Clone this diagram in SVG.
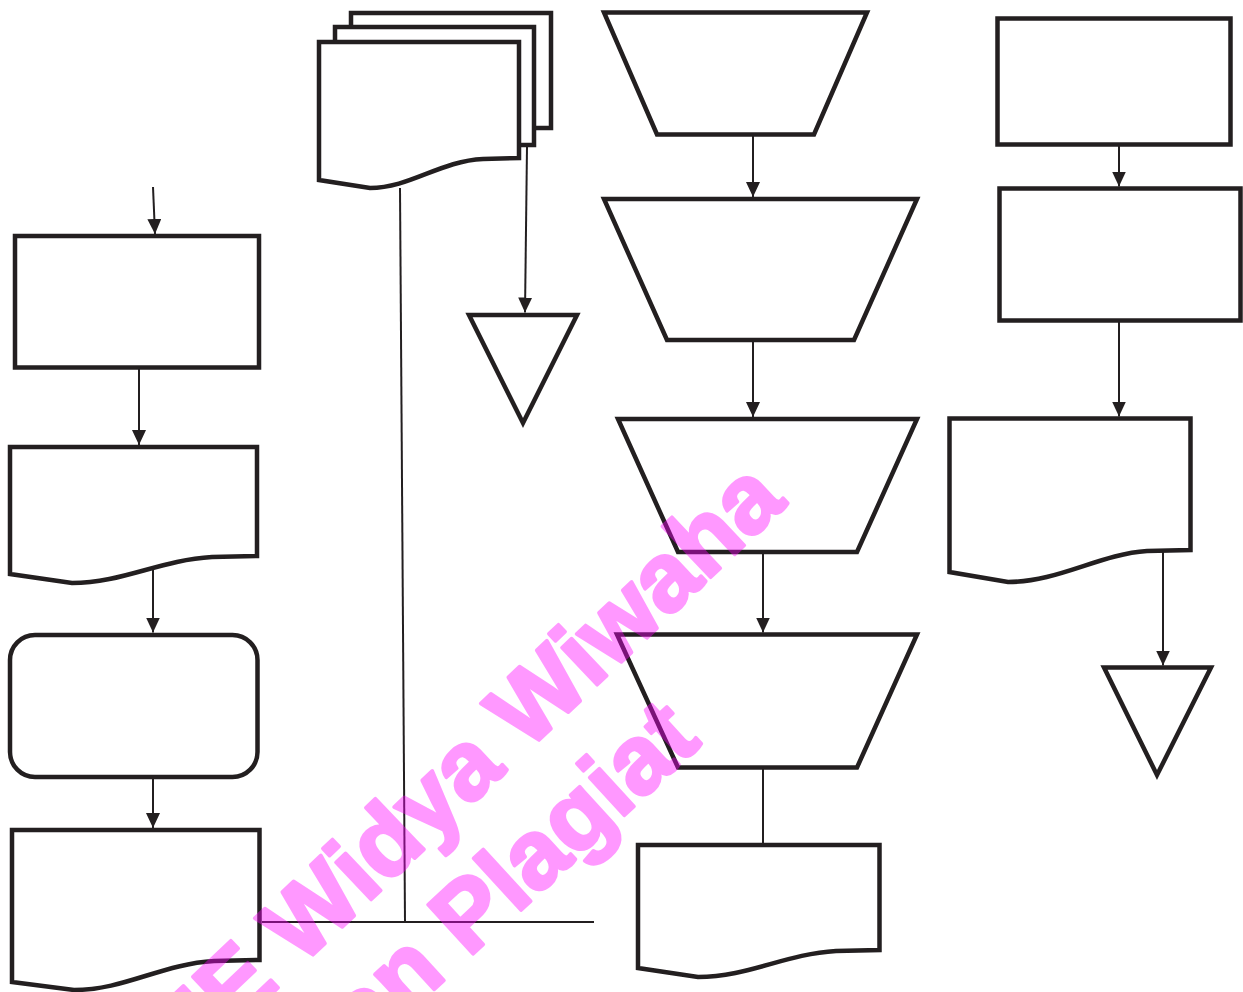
<svg xmlns="http://www.w3.org/2000/svg" width="1243" height="992" viewBox="0 0 1243 992">
<style>
.s{fill:#fff;stroke:#231F20;stroke-width:4.5;stroke-linejoin:miter}
.c{fill:none;stroke:#231F20;stroke-width:2}
.wm{font-family:"Liberation Sans",Arial,sans-serif;font-weight:bold;font-size:97px;fill:#FF00FF;stroke:#FF00FF;stroke-width:3.5;stroke-linejoin:round}
</style>
<defs>
<marker id="arr" markerUnits="userSpaceOnUse" markerWidth="15" markerHeight="14" refX="15" refY="7" orient="auto">
<path d="M0,0 L15,7 L0,14 Z" fill="#231F20"/>
</marker>
</defs>
<rect width="1243" height="992" fill="#fff"/>
<g id="n-rect-a"><rect class="s" x="15" y="236" width="244" height="131.5"/></g>
<g id="n-doc-b"><path class="s" d="M10,447 H257 V556 L212,557 C160,560 122,583 72,583 L10,574 Z"/></g>
<g id="n-round-c"><rect class="s" x="10" y="635" width="247.5" height="142" rx="25" ry="25"/></g>
<g id="n-doc-d"><path class="s" d="M12,830 H259.5 V960 L214,961 C162,964 124,990 74,990 L12,982 Z"/></g>
<g id="n-multidoc">
<rect class="s" x="351" y="13" width="200" height="115"/>
<rect class="s" x="335" y="27" width="199" height="118"/>
<path class="s" d="M319,42 H519 V158 L483,159 C440,161 410,188 370,188 L319,180 Z"/>
</g>
<g id="n-tri-e"><path class="s" d="M469,315 L577,315 L523,423 Z"/></g>
<g id="n-trap-1"><path class="s" d="M604,12.5 L867,12.5 L814,134.5 L657,134.5 Z"/></g>
<g id="n-trap-2"><path class="s" d="M604,199 L917,199 L854,340 L667,340 Z"/></g>
<g id="n-trap-3"><path class="s" d="M618,419 L917,419 L857,552 L678,552 Z"/></g>
<g id="n-trap-4"><path class="s" d="M617,634.5 L917,634.5 L857,767.5 L678,767.5 Z"/></g>
<g id="n-doc-f"><path class="s" d="M638,845 H879.5 V950 L836,951 C785,954 748,977 698,977 L638,968 Z"/></g>
<g id="n-rect-g"><rect class="s" x="997.5" y="18.5" width="233" height="126"/></g>
<g id="n-rect-h"><rect class="s" x="999.5" y="188.5" width="241" height="132"/></g>
<g id="n-doc-i"><path class="s" d="M949.5,418.5 H1190.5 V550 L1147,551 C1100,554 1058,582 1008,582 L949.5,572 Z"/></g>
<g id="n-tri-j"><path class="s" d="M1104,667.5 L1211,667.5 L1157,775 Z"/></g>
<g id="connectors">
<path class="c" d="M153,187 L155,234" marker-end="url(#arr)"/>
<path class="c" d="M139,368 L139,445" marker-end="url(#arr)"/>
<path class="c" d="M153,570 L153,632.5" marker-end="url(#arr)"/>
<path class="c" d="M153,777 L153,828" marker-end="url(#arr)"/>
<path class="c" d="M400,188 L405,922"/>
<path class="c" d="M262,922 H594"/>
<path class="c" d="M527,147 L525,312.5" marker-end="url(#arr)"/>
<path class="c" d="M753,134.5 L753,197" marker-end="url(#arr)"/>
<path class="c" d="M753,340 L753,417" marker-end="url(#arr)"/>
<path class="c" d="M763,552 L763,632.5" marker-end="url(#arr)"/>
<path class="c" d="M763,767.5 L763,843"/>
<path class="c" d="M1119,144.5 L1119,186.5" marker-end="url(#arr)"/>
<path class="c" d="M1119,320.5 L1119,416.5" marker-end="url(#arr)"/>
<path class="c" d="M1163,550 L1163,665.5" marker-end="url(#arr)"/>
</g>
<g id="watermark" opacity="0.4">
<text class="wm" transform="translate(124.5,1133.6) rotate(-43.5)">STIE Widya Wiwaha</text>
<text class="wm" transform="translate(198,1206) rotate(-42.5)">Jangan Plagiat</text>
</g>
</svg>
